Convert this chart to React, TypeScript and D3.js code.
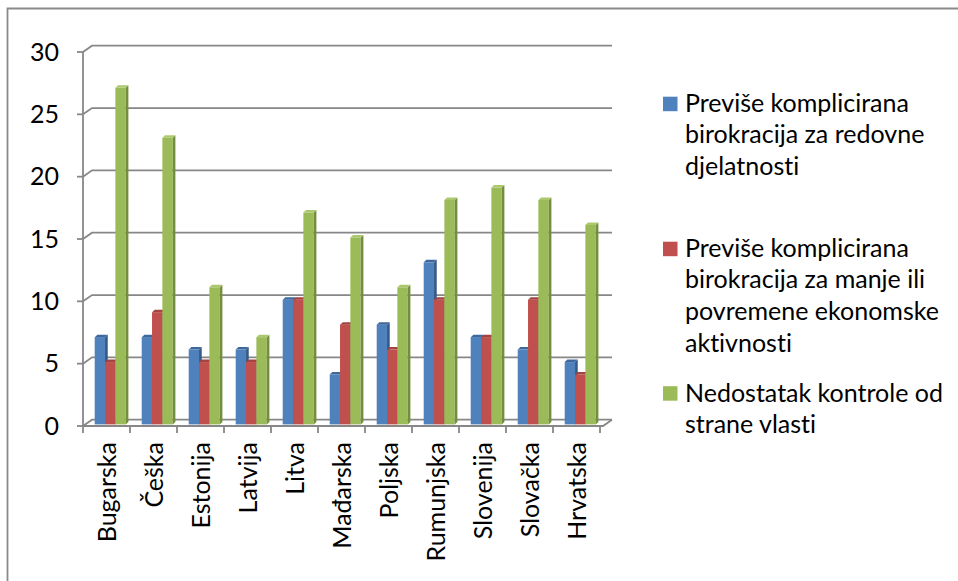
import React from "react";
import * as d3 from "d3";

const categories = ["Bugarska", "Češka", "Estonija", "Latvija", "Litva", "Mađarska", "Poljska", "Rumunjska", "Slovenija", "Slovačka", "Hrvatska"];
const seriesNames = [
  ["Previše komplicirana", "birokracija za redovne", "djelatnosti"],
  ["Previše komplicirana", "birokracija za manje ili", "povremene ekonomske", "aktivnosti"],
  ["Nedostatak kontrole od", "strane vlasti"],
];
const redovne = [7, 7, 6, 6, 10, 4, 8, 13, 7, 6, 5];
const povremene = [5, 9, 5, 5, 10, 8, 6, 10, 7, 10, 4];
const kontrola = [27, 23, 11, 7, 17, 15, 11, 18, 19, 18, 16];
const yTicks = [0, 5, 10, 15, 20, 25, 30];

const colors = [
  { front: "#4F81BD", side: "#365A88", top: "#3D689E" },
  { front: "#C0504D", side: "#8B3936", top: "#A4433F" },
  { front: "#9BBB59", side: "#738E3E", top: "#ABC86E" },
];

const FONT = "Lato, 'Noto Sans', sans-serif";
const FS = 25;

export default function App() {
  const series = [redovne, povremene, kontrola];
  const x = d3.scaleBand<string>().domain(categories).range([83, 600]);
  const inner = d3.scaleBand<number>().domain([0, 1, 2]).range([11.7, 42.7]);
  const y = d3.scaleLinear().domain([0, 30]).range([426, 52]);
  const DX = 9, DY = 6.3;
  const bdx = 2.7, bdy = 2.5, bshift = 1.6;
  const gridColor = "#878787";
  const xEnd = 600;

  const bars: React.ReactNode[] = [];
  categories.forEach((c, ci) => {
    series.forEach((s, si) => {
      const x0 = (x(c) as number) + (inner(si) as number);
      const w = inner.bandwidth();
      const top = y(s[ci]) - bshift;
      const bot = y(0) - bshift;
      const col = colors[si];
      bars.push(
        <g key={`${ci}-${si}`}>
          <rect x={x0} y={top} width={w} height={bot - top} fill={col.front} />
          <path d={`M${x0 + w},${top} L${x0 + w + bdx},${top - bdy} L${x0 + w + bdx},${bot - bdy} L${x0 + w},${bot} Z`} fill={col.side} />
          <path d={`M${x0},${top} L${x0 + bdx},${top - bdy} L${x0 + w + bdx},${top - bdy} L${x0 + w},${top} Z`} fill={col.top} />
        </g>
      );
    });
  });

  const legendBlocks = [
    { sq: 96.7, base: [111.7, 143.4, 175.1] },
    { sq: 241.7, base: [256.7, 288.4, 320.1, 351.8] },
    { sq: 386.2, base: [401.7, 433.4] },
  ];

  return (
    <svg width={958} height={581} style={{ position: "absolute", left: 0, top: 0, background: "#fff", fontVariantLigatures: "none", fontFeatureSettings: "'liga' 0, 'clig' 0" }} fontFamily={FONT}>
      <rect x={0} y={0} width={958} height={581} fill="#fff" />
      <path d={`M7.5,600 L7.5,8.5 L980,8.5`} fill="none" stroke="#8a8a8a" strokeWidth={1.8} />
      {yTicks.map((t) => (
        <path key={t} d={`M83,${y(t)} L${83 + DX},${y(t) - DY} L${xEnd + DX + 3},${y(t) - DY}`} fill="none" stroke={gridColor} strokeWidth={1.8} />
      ))}
      <path d={`M83,${y(0)} L${xEnd + 3},${y(0)} L${xEnd + DX + 3},${y(0) - DY}`} fill="none" stroke={gridColor} strokeWidth={1.8} />
      <line x1={83} y1={y(30)} x2={83} y2={y(0)} stroke={gridColor} strokeWidth={1.8} />
      {yTicks.map((t) => (
        <line key={t} x1={77} x2={83} y1={y(t)} y2={y(t)} stroke={gridColor} strokeWidth={1.8} />
      ))}
      {d3.range(categories.length + 1).map((i) => (
        <line key={i} x1={83 + i * x.step()} x2={83 + i * x.step()} y1={y(0)} y2={y(0) + 7} stroke={gridColor} strokeWidth={1.8} />
      ))}
      {bars}
      {yTicks.map((t) => (
        <text key={t} x={59} y={y(t)} dy="0.35em" textAnchor="end" fontSize={FS} fill="#000">{t}</text>
      ))}
      {categories.map((c) => {
        const cx = (x(c) as number) + x.bandwidth() / 2 + 9.5;
        return (
          <text key={c} transform={`translate(${cx},442) rotate(-90)`} textAnchor="end" fontSize={FS} fill="#000">{c}</text>
        );
      })}
      {legendBlocks.map((b, i) => (
        <g key={i}>
          <rect x={663} y={b.sq} width={14.5} height={14.5} fill={colors[i].front} />
          {seriesNames[i].map((line, li) => (
            <text key={li} x={685} y={b.base[li]} fontSize={FS} fill="#000">{line}</text>
          ))}
        </g>
      ))}
    </svg>
  );
}
